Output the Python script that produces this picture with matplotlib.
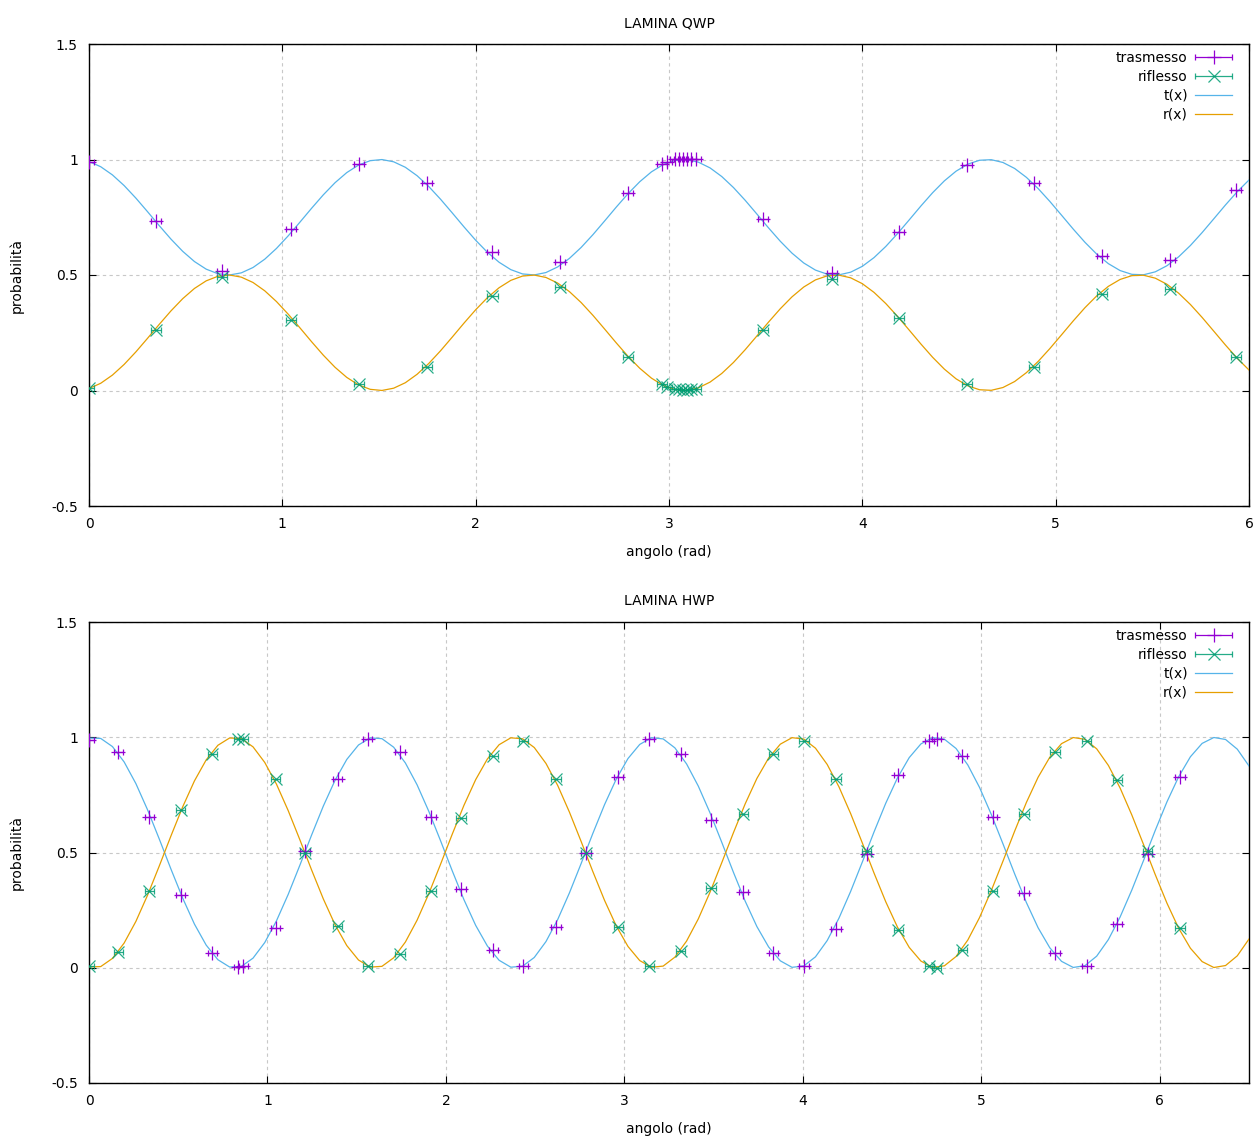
import numpy as np
import matplotlib
matplotlib.use("Agg")
import matplotlib.pyplot as plt
from matplotlib.ticker import FuncFormatter, MultipleLocator
from matplotlib.container import ErrorbarContainer
from matplotlib.legend_handler import HandlerErrorbar

# ---------------- data: QWP ----------------
qwp_x = [0.0, 0.345, 0.69, 1.043, 1.395, 1.747, 2.087, 2.437, 2.788,
         2.964, 2.99, 3.032, 3.053, 3.074, 3.095, 3.115, 3.141,
         3.488, 3.842, 4.19, 4.54, 4.89, 5.242, 5.59, 5.934]
qwp_trasmesso = [0.99, 0.733, 0.516, 0.70, 0.981, 0.899, 0.599, 0.557, 0.856,
                 0.981, 0.99, 1.003, 1.003, 1.003, 1.003, 1.003, 1.003,
                 0.743, 0.509, 0.684, 0.975, 0.899, 0.581, 0.567, 0.867]
qwp_riflesso = [0.012, 0.264, 0.492, 0.307, 0.026, 0.101, 0.408, 0.450, 0.146,
                0.026, 0.016, 0.007, 0.005, 0.004, 0.004, 0.005, 0.006,
                0.264, 0.483, 0.315, 0.026, 0.102, 0.418, 0.441, 0.144]
qwp_xerr = 0.026
# fit parameters t(x) = off + amp*cos(w*(x - x0)), r(x) = 1 - t(x)
qwp_off, qwp_amp, qwp_w, qwp_x0 = 0.75, 0.25, 4.0, 1.505
qwp_xrange = (0, 6)

# ---------------- data: HWP ----------------
hwp_x = [0.0, 0.164, 0.338, 0.514, 0.691, 0.837, 0.865, 1.046, 1.21, 1.393,
         1.561, 1.743, 1.916, 2.085, 2.266, 2.433, 2.617, 2.785, 2.966, 3.14,
         3.315, 3.485, 3.667, 3.835, 4.006, 4.186, 4.357, 4.535, 4.708, 4.75,
         4.894, 5.064, 5.239, 5.413, 5.59, 5.762, 5.932, 6.113]
hwp_trasmesso = [0.99, 0.934, 0.656, 0.317, 0.064, 0.003, 0.009, 0.172, 0.508, 0.819,
                 0.992, 0.934, 0.656, 0.343, 0.078, 0.009, 0.175, 0.50, 0.827, 0.992,
                 0.927, 0.642, 0.327, 0.064, 0.009, 0.169, 0.495, 0.837, 0.985, 0.992,
                 0.92, 0.656, 0.324, 0.064, 0.009, 0.191, 0.493, 0.827]
hwp_riflesso = [0.009, 0.068, 0.331, 0.685, 0.927, 0.993, 0.993, 0.819, 0.50, 0.179,
                0.006, 0.061, 0.335, 0.65, 0.92, 0.985, 0.819, 0.50, 0.177, 0.009,
                0.071, 0.348, 0.667, 0.927, 0.985, 0.819, 0.505, 0.165, 0.009, 0.001,
                0.078, 0.334, 0.667, 0.934, 0.985, 0.813, 0.505, 0.172]
hwp_xerr = 0.026
hwp_off, hwp_amp, hwp_w, hwp_x0 = 0.5, 0.5, 3.996, 0.03
hwp_xrange = (0, 6.5)

# ---------------- style ----------------
C_T = "#9400D3"
C_R = "#009E73"
C_TX = "#56B4E9"
C_RX = "#E69F00"

plt.rcParams["font.family"] = ["DejaVu Sans"]
plt.rcParams["font.size"] = 10

fig = plt.figure(figsize=(12.6, 11.4), dpi=100)

fmt = FuncFormatter(lambda v, p: "%g" % round(v, 6))


def panel(rect, title, xs, tr, rf, xerr, off, amp, w, x0, xr, xstep):
    ax = fig.add_axes(rect)
    xx = np.linspace(xr[0], xr[1], 100)
    tx = off + amp * np.cos(w * (xx - x0))
    rx = 1 - tx
    e1 = ax.errorbar(xs, tr, xerr=xerr, fmt="+", color=C_T, ms=10, mew=0.9,
                     elinewidth=0.9, capsize=2.5, capthick=0.9, label="trasmesso", zorder=4)
    e2 = ax.errorbar(xs, rf, xerr=xerr, fmt="x", color=C_R, ms=8, mew=0.9,
                     elinewidth=0.9, capsize=2.5, capthick=0.9, label="riflesso",
                     zorder=4, alpha=0.85)
    l1, = ax.plot(xx, tx, color=C_TX, lw=0.9, label="t(x)", zorder=3)
    l2, = ax.plot(xx, rx, color=C_RX, lw=0.9, label="r(x)", zorder=3)
    ax.set_xlim(*xr)
    ax.set_ylim(-0.5, 1.5)
    ax.xaxis.set_major_locator(MultipleLocator(xstep))
    ax.yaxis.set_major_locator(MultipleLocator(0.5))
    ax.xaxis.set_major_formatter(fmt)
    ax.yaxis.set_major_formatter(fmt)
    ax.grid(True, color="#c8c8c8", linestyle=(0, (3, 3)), linewidth=0.8)
    ax.set_axisbelow(True)
    ax.tick_params(direction="in", top=True, right=True, length=5,
                   labelsize=10, colors="black", pad=8)
    for s in ax.spines.values():
        s.set_linewidth(1.0)
    ax.set_title(title, fontsize=10, pad=12)
    ax.set_xlabel("angolo (rad)", fontsize=10, labelpad=10)
    ax.set_ylabel("probabilità", fontsize=10, labelpad=20)
    ax.legend(handles=[e1, e2, l1, l2], loc="upper right",
              bbox_to_anchor=(0.994, 1.006), frameon=False,
              markerfirst=False, fontsize=10, handlelength=2.7,
              handletextpad=0.5, labelspacing=0.35, borderaxespad=0.3,
              handler_map={ErrorbarContainer: HandlerErrorbar(xerr_size=1.35)})
    return ax


panel([89 / 1260, 1 - 506 / 1140, 1160 / 1260, 462 / 1140], "LAMINA QWP",
      qwp_x, qwp_trasmesso, qwp_riflesso, qwp_xerr,
      qwp_off, qwp_amp, qwp_w, qwp_x0, qwp_xrange, 1)
panel([89 / 1260, 1 - 1083 / 1140, 1160 / 1260, 461 / 1140], "LAMINA HWP",
      hwp_x, hwp_trasmesso, hwp_riflesso, hwp_xerr,
      hwp_off, hwp_amp, hwp_w, hwp_x0, hwp_xrange, 1)

fig.savefig("out.png", dpi=100)
